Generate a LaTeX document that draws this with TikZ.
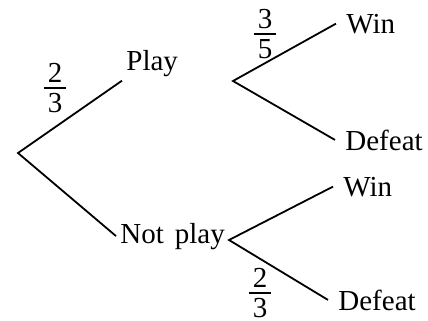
\documentclass[tikz,border=0pt]{standalone}
\usepackage{fontspec}
\setmainfont{Liberation Serif}
\usetikzlibrary{positioning,calc}
\setlength{\arrayrulewidth}{0.6pt}
\newcommand{\prob}[2]{\begin{tabular}{@{\hspace{2pt}}c@{\hspace{2pt}}}#1\\[-2.5pt]\hline #2\end{tabular}}

\begin{document}
\begin{tikzpicture}[x=0.5pt,y=-0.5pt,
    font=\fontsize{14.5}{17}\selectfont,
    branch/.style={line width=0.9pt},
    event/.style={anchor=base west,inner sep=2pt},
    leaf/.style={anchor=base west,inner sep=5pt}]
    \useasboundingbox (0,0) rectangle (428,321);

    % First stage
    \coordinate (root) at (18,153);
    \node[event] (play) at (122,70) {Play};
    \node[event] (notplay) at (116,243) {Not\hspace{0.38em}play};
    \draw[branch] (play.south west) -- (root) -- (notplay.west);
    \node (p1) at (55,90.5) {\prob{2}{3}};

    % After Play
    \coordinate (pv) at (233,81);
    \node[leaf] (win1) at (336,33) {Win};
    \node[leaf] (defeat1) at (335,150) {Defeat};
    \draw[branch] (win1.west) -- (pv) -- (defeat1.west);
    \node (p2) at (265,36.5) {\prob{3}{5}};

    % After Not play
    \coordinate (nv) at (229,240);
    \node[leaf] (win2) at (333,196) {Win};
    \node[leaf] (defeat2) at (328,310) {Defeat};
    \draw[branch] (win2.west) -- (nv) -- (defeat2.west);
    \node (p3) at (260,295.5) {\prob{2}{3}};
\end{tikzpicture}
\end{document}
